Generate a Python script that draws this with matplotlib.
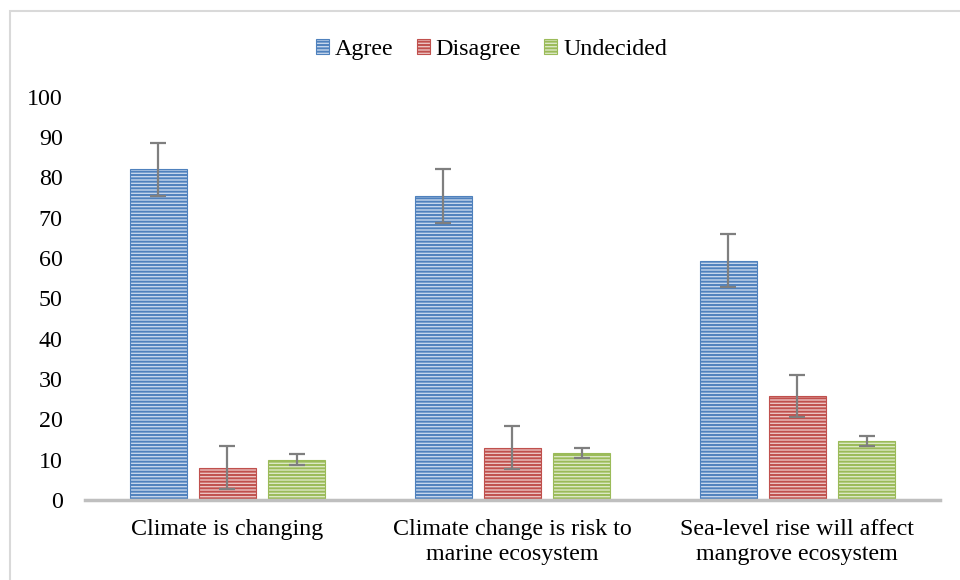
import numpy as np
import matplotlib
matplotlib.use("Agg")
import matplotlib.pyplot as plt
from matplotlib.patches import Rectangle

# -------------------------------
# data
# -------------------------------
categories = ["Climate is changing",
              "Climate change is risk to\nmarine ecosystem",
              "Sea-level rise will affect\nmangrove ecosystem"]
series = ["Agree", "Disagree", "Undecided"]
agree = [82.0, 75.3, 59.4]
disagree = [8.0, 13.0, 25.8]
undecided = [10.0, 11.7, 14.6]
agree_err = [6.6, 6.7, 6.6]
disagree_err = [5.3, 5.3, 5.3]
undecided_err = [1.4, 1.3, 1.2]

values = [agree, disagree, undecided]
errors = [agree_err, disagree_err, undecided_err]
edge_cols = ["#4F81BD", "#C0504D", "#9BBB59"]
face_cols = ["#C6D6EC", "#EBC3C2", "#DCE8C6"]

plt.rcParams["font.family"] = ["Liberation Serif", "DejaVu Serif"]
plt.rcParams["hatch.linewidth"] = 1.4

fig = plt.figure(figsize=(9.6, 5.8), dpi=100)
ax = fig.add_axes([0.0885, 0.138, 0.8905, 0.695])

x = np.arange(len(categories))
width = 0.2
offsets = [-0.243, 0.0, 0.243]

for vals, errs, ec, fc, off, name in zip(values, errors, edge_cols, face_cols, offsets, series):
    ax.bar(x + off, vals, width, color=fc, edgecolor=ec, hatch="-----",
           linewidth=0.8, label=name, zorder=2)
    ax.errorbar(x + off, vals, yerr=errs, fmt="none", ecolor="#7F7F7F",
                elinewidth=1.6, capsize=6, capthick=1.6, zorder=3)

ax.set_xlim(-0.5, 2.5)
ax.set_ylim(0, 100)
ax.set_yticks(np.arange(0, 101, 10))
ax.set_xticks(x)
ax.set_xticklabels(categories, fontsize=17.3, linespacing=1.25)
ax.tick_params(axis="y", labelsize=17.3, length=0, pad=16)
ax.tick_params(axis="x", length=0, pad=14)
for s in ["top", "right", "left"]:
    ax.spines[s].set_visible(False)
ax.spines["bottom"].set_color("#BFBFBF")
ax.spines["bottom"].set_linewidth(2.5)

leg = fig.legend(loc="center", bbox_to_anchor=(0.512, 0.915), ncol=3, frameon=False,
                 fontsize=17.3, handlelength=0.55, handleheight=0.55, handletextpad=0.25,
                 columnspacing=0.95)

# outer chart frame
fig.patches.append(Rectangle((10 / 960, -0.1), 1.2, (580 - 11) / 580 + 0.1,
                             transform=fig.transFigure, fill=False,
                             edgecolor="#D9D9D9", linewidth=1.5))

fig.savefig("out.png", dpi=100)
